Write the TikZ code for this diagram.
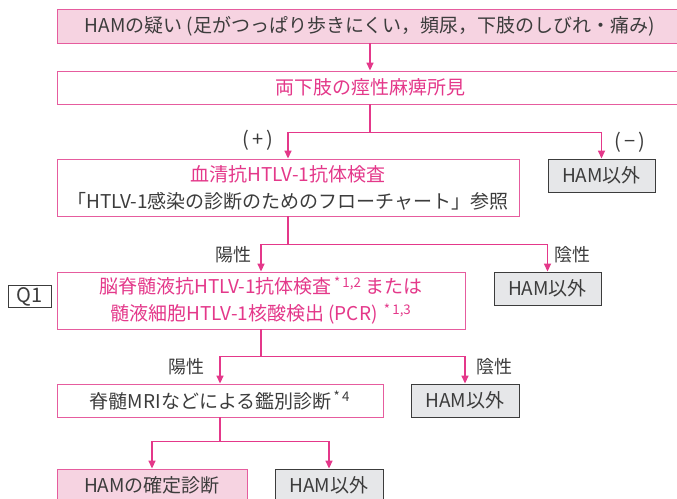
\documentclass[tikz,border=0pt]{standalone}
\usepackage{fontspec}
\setmainfont{Noto Sans CJK JP}
\usetikzlibrary{arrows.meta}
\definecolor{hampink}{HTML}{E4388A}
\definecolor{hamedge}{HTML}{E65C9E}
\definecolor{hamfill}{HTML}{F6D3E1}
\definecolor{hamgray}{HTML}{E6E7E9}
\definecolor{hamtext}{HTML}{3C3C3C}
\newcommand\Note[1]{\textsuperscript{\,*\,#1}}

\begin{document}
\begin{tikzpicture}[x=1pt,y=-1pt,
  box/.style={draw=hamedge,line width=0.9pt,fill=white,inner sep=0pt,align=center,
    text=hamtext,font=\fontsize{19}{27}\selectfont},
  pinkbox/.style={box,fill=hamfill},
  graybox/.style={box,draw=hamtext,line width=0.9pt,fill=hamgray,minimum width=107pt,minimum height=33pt},
  qbox/.style={box,draw=hamtext,line width=0.9pt,minimum width=43pt,minimum height=22pt,
    text height=13pt,text depth=1pt,font=\fontsize{20}{20}\selectfont},
  lbl/.style={text=hamtext,font=\fontsize{18}{20}\selectfont,inner sep=0pt},
  wire/.style={draw=hampink,line width=1.6pt},
  conn/.style={wire,-{Triangle[length=8pt,width=7pt]}}
]
\useasboundingbox (0,0) rectangle (677,498);

% boxes
\node[pinkbox,minimum width=626pt,minimum height=34pt] (doubt) at (370,26)
  {HAMの疑い (足がつっぱり歩きにくい，頻尿，下肢のしびれ・痛み)};
\node[box,minimum width=626pt,minimum height=33pt,text=hampink] (spastic) at (370,87.5)
  {両下肢の痙性麻痺所見};
\node[box,minimum width=462pt,minimum height=57pt] (serum) at (288,187.5)
  {{\color{hampink}血清抗HTLV-1抗体検査}\\「HTLV-1感染の診断のためのフローチャート」参照};
\node[graybox] (notham1) at (601.5,175.5) {HAM以外};
\node[qbox] (q1) at (29.5,296) {Q1};
\node[box,minimum width=408pt,minimum height=57pt,text=hampink] (csf) at (261,300.5)
  {脳脊髄液抗HTLV-1抗体検査\Note{1,2} または\\髄液細胞HTLV-1核酸検出 (PCR) \Note{1,3}};
\node[graybox] (notham2) at (547.5,288.5) {HAM以外};
\node[box,minimum width=326pt,minimum height=33pt] (mri) at (220,400.5)
  {脊髄MRIなどによる鑑別診断\Note{4}};
\node[graybox,minimum width=108pt] (notham3) at (465,400.5) {HAM以外};
\node[pinkbox,minimum width=190pt,minimum height=33pt] (final) at (152,485.5) {HAMの確定診断};
\node[graybox,minimum width=108pt] (notham4) at (329,485.5) {HAM以外};

% branch labels
\node[lbl,font=\fontsize{20}{20}\selectfont] (plus) at (258,140) {(\,+\,)};
\node[lbl,font=\fontsize{20}{20}\selectfont] (minus) at (630,142) {(\,−\,)};
\node[lbl] (pos1) at (233,255) {陽性};
\node[lbl] (neg1) at (572,255) {陰性};
\node[lbl] (pos2) at (186,367) {陽性};
\node[lbl] (neg2) at (494,367) {陰性};

% connectors
\draw[conn] (doubt) -- (spastic);
\draw[wire] (spastic.south) -- ++(0,28) coordinate (b1);
\draw[conn] (b1) -| (serum.north);
\draw[conn] (b1) -| (notham1.north);
\draw[wire] (serum.south) -- ++(0,28) coordinate (b2);
\draw[conn] (b2) -| (csf.north);
\draw[conn] (b2) -| (notham2.north);
\draw[wire] (csf.south) -- ++(0,27) coordinate (b3);
\draw[conn] (b3) -| (mri.north);
\draw[conn] (b3) -| (notham3.north);
\draw[wire] (mri.south) -- ++(0,24) coordinate (b4);
\draw[conn] (b4) -| (final.north);
\draw[conn] (b4) -| (notham4.north);
\end{tikzpicture}
\end{document}
